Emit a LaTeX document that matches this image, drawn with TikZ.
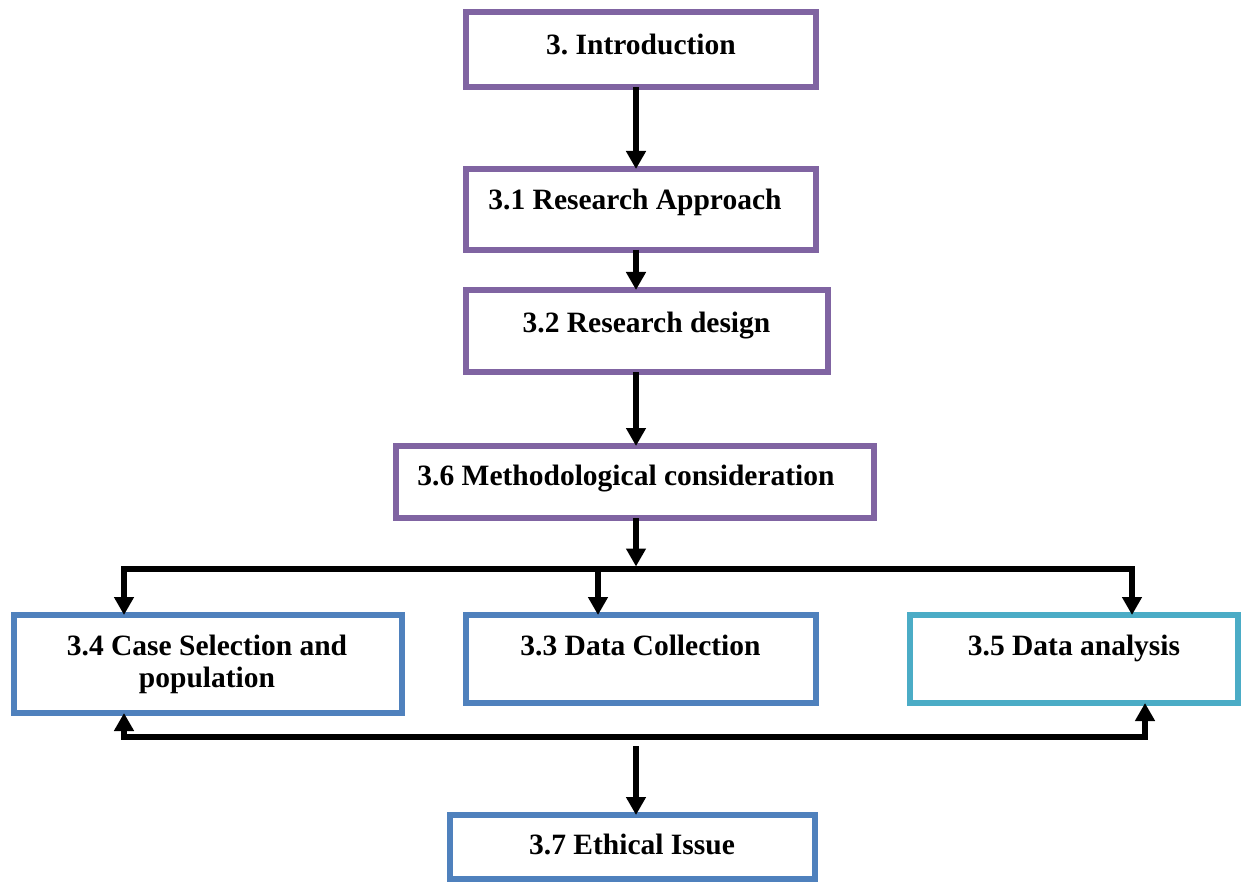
\documentclass[tikz,border=0pt]{standalone}
\usepackage{fontspec}
\setmainfont{Liberation Serif}
\usetikzlibrary{arrows.meta}
\definecolor{purp}{HTML}{8064A2}
\definecolor{blu}{HTML}{4F81BD}
\definecolor{tealc}{HTML}{4BACC6}
\frenchspacing
\tikzset{
  box/.style={draw, line width=6pt, inner sep=0pt, outer sep=0pt, fill=white},
  pbox/.style={box, draw=purp},
  bbox/.style={box, draw=blu},
  tbox/.style={box, draw=tealc},
  txt/.style={font=\fontsize{29.5}{32}\selectfont\bfseries, inner sep=0pt, outer sep=0pt, anchor=base, align=center},
  arr/.style={line width=6pt, line join=miter, -{Triangle[width=19pt,length=18pt]}},
  arrtwo/.style={line width=6pt, line join=miter, {Triangle[width=19pt,length=18pt]}-{Triangle[width=19pt,length=18pt]}}
}
\begin{document}
\begin{tikzpicture}[x=1pt, y=-1pt]
\fill[white] (0,0) rectangle (1241,882);
\useasboundingbox (0,0) rectangle (1241,882);

% boxes
\node[pbox, minimum width=350pt, minimum height=75pt] (intro) at (641,50) {};
\node[pbox, minimum width=350pt, minimum height=81pt] (r1) at (641,209.5) {};
\node[pbox, minimum width=362pt, minimum height=82pt] (r2) at (647,331) {};
\node[pbox, minimum width=478pt, minimum height=72pt] (m6) at (635,482) {};
\node[bbox, minimum width=388pt, minimum height=98pt] (c34) at (208,664) {};
\node[bbox, minimum width=350pt, minimum height=88pt] (c33) at (641,659) {};
\node[tbox, minimum width=328pt, minimum height=88pt] (c35) at (1074,659) {};
\node[bbox, minimum width=365pt, minimum height=64pt] (e7) at (632.5,847) {};

% labels
\node[txt] (intro-t) at (641,55) {3. Introduction};
\node[txt] (r1-t) at (635,210) {3.1 Research Approach};
\node[txt] (r2-t) at (646.5,332) {3.2 Research design};
\node[txt] (m6-t) at (626,485) {3.6 Methodological consideration};
\node[txt, anchor=center] (c34-t) at (207,664) {3.4 Case Selection and\\population};
\node[txt] (c33-t) at (640.5,655) {3.3 Data Collection};
\node[txt] (c35-t) at (1074,655) {3.5 Data analysis};
\node[txt] (e7-t) at (632,854) {3.7 Ethical Issue};

% helper coordinates
\coordinate (cx) at (636,0);
\coordinate (L) at (124,0);
\coordinate (R) at (1132,0);
\coordinate (R2) at (1145,0);
\coordinate (x33) at (598,0);
\coordinate (bustop) at (636,569);
\coordinate (bushit) at (636,566.5);
\coordinate (busbot) at (636,737);
\coordinate (e7src) at (636,746);

% connectors
\draw[arr] (intro.south -| cx) -- (r1.north -| cx);
\draw[arr] (r1.south -| cx) -- (r2.north -| cx);
\draw[arr] (r2.south -| cx) -- (m6.north -| cx);
\draw[arr] (m6.south -| cx) -- (bushit);
\draw[arrtwo] (c34.north -| L) |- (bustop) -| (c35.north -| R);
\draw[arr] (bustop -| x33) -- (c33.north -| x33);
\draw[arrtwo] (c34.south -| L) |- (busbot) -| (c35.south -| R2);
\draw[arr] (e7src) -- (e7.north -| cx);
\end{tikzpicture}
\end{document}
